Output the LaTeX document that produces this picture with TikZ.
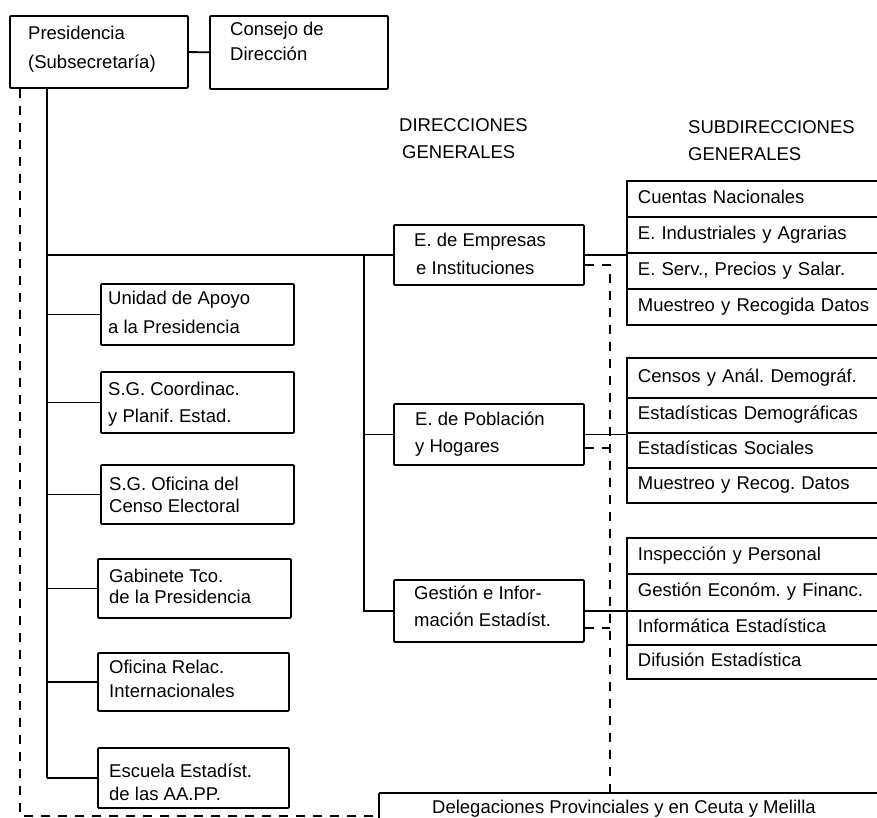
\documentclass[tikz,border=0pt]{standalone}
\usepackage{fontspec}
\setmainfont{Liberation Sans}
\frenchspacing
\begin{document}
\begin{tikzpicture}[x=1pt,y=-1pt,
  frame/.style={draw, line width=1.8pt, rounded corners=1pt, anchor=north west, inner sep=0pt},
  row/.style={draw, line width=1.8pt, anchor=north west, inner sep=0pt, inner xsep=11pt,
    minimum width=280pt, text width=258pt, align=left, text height=13pt, text depth=4pt,
    font=\fontsize{18.5}{20}\selectfont},
  lbl/.style={anchor=base west, inner sep=0pt, font=\fontsize{18.5}{20}\selectfont},
  link/.style={line width=1.8pt},
  dashlink/.style={line width=1.8pt, dash pattern=on 9pt off 8pt}
]
\fill[white] (0,0) rectangle (877,817);
\useasboundingbox (0,0) rectangle (877,817);

% --- top level ---
\node[frame, minimum width=178pt, minimum height=72pt] (pres) at (9,15) {};
\node[lbl] (presA) at (28,39) {Presidencia};
\node[lbl] (presB) at (28,68) {(Subsecretaría)};
\node[frame, minimum width=178pt, minimum height=73pt] (cons) at (209,15) {};
\node[lbl] (consA) at (230,35) {Consejo de};
\node[lbl] (consB) at (230,60) {Dirección};

% --- column headings ---
\node[lbl] (hdA) at (399,131) {DIRECCIONES};
\node[lbl] (hdB) at (402,158) {GENERALES};
\node[lbl] (hdC) at (688,133) {SUBDIRECCIONES};
\node[lbl] (hdD) at (688,160) {GENERALES};

% --- units attached to the presidency ---
\node[frame, minimum width=193pt, minimum height=61pt] (unid) at (100,283) {};
\node[lbl] (unidA) at (108,304) {Unidad de Apoyo};
\node[lbl] (unidB) at (108,333) {a la Presidencia};
\node[frame, minimum width=193pt, minimum height=61pt] (coord) at (100,371) {};
\node[lbl] (coordA) at (108,395) {S.G. Coordinac.};
\node[lbl] (coordB) at (108,422) {y Planif. Estad.};
\node[frame, minimum width=193pt, minimum height=59pt] (censo) at (100,464) {};
\node[lbl] (censoA) at (109,490) {S.G. Oficina del};
\node[lbl] (censoB) at (109,512) {Censo Electoral};
\node[frame, minimum width=193pt, minimum height=59pt] (gab) at (97,558) {};
\node[lbl] (gabA) at (109,582) {Gabinete Tco.};
\node[lbl] (gabB) at (109,603) {de la Presidencia};
\node[frame, minimum width=191pt, minimum height=58pt] (rel) at (97,652) {};
\node[lbl] (relA) at (109,673) {Oficina Relac.};
\node[lbl] (relB) at (109,697) {Internacionales};
\node[frame, minimum width=191pt, minimum height=60pt] (esc) at (97,747) {};
\node[lbl] (escA) at (109,777) {Escuela Estadíst.};
\node[lbl] (escB) at (109,800) {de las AA.PP.};

% --- directorates general ---
\node[frame, minimum width=190pt, minimum height=60pt] (emp) at (393,224) {};
\node[lbl] (empA) at (414,246) {E. de Empresas};
\node[lbl] (empB) at (416,274) {e Instituciones};
\node[frame, minimum width=190pt, minimum height=61pt] (pob) at (393,403) {};
\node[lbl] (pobA) at (415,425) {E. de Población};
\node[lbl] (pobB) at (415,452) {y Hogares};
\node[frame, minimum width=190pt, minimum height=62pt] (ges) at (393,579) {};
\node[lbl] (gesA) at (414,599) {Gestión e Infor-};
\node[lbl] (gesB) at (414,626) {mación Estadíst.};

% --- deputy directorates ---
\node[row, minimum height=36pt] (s1a) at (626,180) {Cuentas Nacionales};
\node[row, minimum height=36pt] (s1b) at (626,216) {E. Industriales y Agrarias};
\node[row, minimum height=36pt] (s1c) at (626,252) {E. Serv., Precios y Salar.};
\node[row, minimum height=36pt] (s1d) at (626,288) {Muestreo y Recogida Datos};

\node[row, minimum height=40pt] (s2a) at (626,357) {Censos y Anál. Demográf.};
\node[row, minimum height=35pt] (s2b) at (626,397) {Estadísticas Demográficas};
\node[row, minimum height=35pt] (s2c) at (626,432) {Estadísticas Sociales};
\node[row, minimum height=35pt] (s2d) at (626,467) {Muestreo y Recog. Datos};

\node[row, minimum height=36pt] (s3a) at (626,537) {Inspección y Personal};
\node[row, minimum height=37pt] (s3b) at (626,573) {Gestión Económ. y Financ.};
\node[row, minimum height=34pt] (s3c) at (626,610) {Informática Estadística};
\node[row, minimum height=34pt] (s3d) at (626,644) {Difusión Estadística};

% --- provincial delegations ---
\node[frame, minimum width=520pt, minimum height=46pt] (del) at (378,792) {};
\node[lbl] (delA) at (432,813) {Delegaciones Provinciales y en Ceuta y Melilla};

% --- rails and taps ---
\coordinate (trunk) at (47,0);
\coordinate (bus) at (364,0);
\coordinate (lrail) at (20,0);
\coordinate (rrail) at (610,0);
\coordinate (empTap) at (0,265);
\coordinate (pobTap) at (0,448);
\coordinate (gesTap) at (0,628);

% --- solid lines of command ---
\draw[link] (pres) -- (cons);
\draw[link] (pres.south -| trunk) -- (trunk |- esc.west);
\draw[link] (trunk |- unid.west) -- (unid.west);
\draw[link] (trunk |- coord.west) -- (coord.west);
\draw[link] (trunk |- censo.west) -- (censo.west);
\draw[link] (trunk |- gab.west) -- (gab.west);
\draw[link] (trunk |- rel.west) -- (rel.west);
\draw[link] (trunk |- esc.west) -- (esc.west);
\draw[link] (trunk |- emp.west) -- (emp.west);
\draw[link] (bus |- emp.west) -- (bus |- ges.west) -- (ges.west);
\draw[link] (bus |- pob.west) -- (pob.west);
\draw[link] (emp.east) -- (emp.east -| s1c.west);
\draw[link] (pob.east) -- (pob.east -| s2c.west);
\draw[link] (ges.east) -- (ges.east -| s3c.west);

% --- dashed territorial links ---
\draw[dashlink] (pres.south -| lrail) -- (lrail |- del.west) -- (del.west);
\draw[dashlink] (emp.east |- empTap) -- (rrail |- empTap) -- (rrail |- del.north);
\draw[dashlink] (pob.east |- pobTap) -- (rrail |- pobTap);
\draw[dashlink] (ges.east |- gesTap) -- (rrail |- gesTap);
\end{tikzpicture}
\end{document}
